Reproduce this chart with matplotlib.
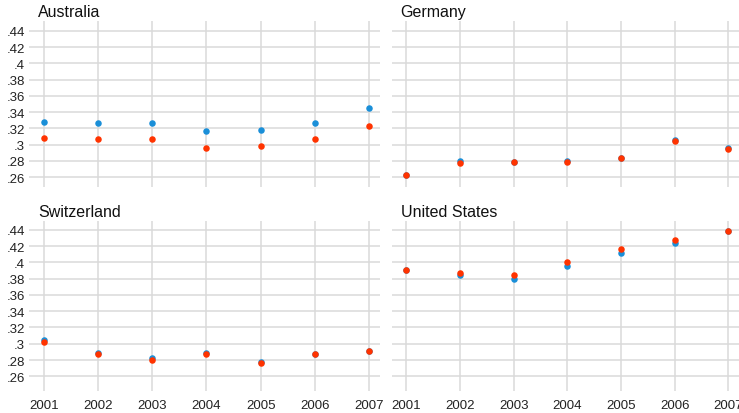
import matplotlib.pyplot as plt
from matplotlib.ticker import FuncFormatter
from matplotlib.transforms import offset_copy

plt.rcParams['font.family'] = ['Liberation Sans', 'DejaVu Sans']

years = [2001, 2002, 2003, 2004, 2005, 2006, 2007]
countries = ["Australia", "Germany", "Switzerland", "United States"]

# two series per country
blue_aus = [.328, .326, .327, .317, .318, .327, .345]
red_aus = [.308, .307, .307, .296, .298, .307, .323]
blue_deu = [.263, .280, .279, .280, .283, .306, .296]
red_deu = [.262, .277, .278, .279, .283, .304, .294]
blue_che = [.305, .289, .282, .289, .278, .288, .291]
red_che = [.302, .287, .280, .288, .276, .287, .291]
blue_usa = [.391, .385, .380, .396, .411, .424, .438]
red_usa = [.391, .387, .384, .400, .416, .427, .438]

blue_series = [blue_aus, blue_deu, blue_che, blue_usa]
red_series = [red_aus, red_deu, red_che, red_usa]

yticks = [.26, .28, .30, .32, .34, .36, .38, .40, .42, .44]

BLUE = "#1a8fd8"
RED = "#ff3300"
GRID = "#dadada"

W, H = 739, 414
fig = plt.figure(figsize=(W / 100, H / 100), dpi=100)

# panel boxes in pixels: left, right, top, bottom
boxes = [
    (29, 380, 22, 188),
    (392, 739, 22, 188),
    (29, 380, 222, 392),
    (392, 739, 222, 392),
]
ylims = [(0.2477, 0.4523), (0.2477, 0.4523), (0.2420, 0.4507), (0.2420, 0.4507)]


def fmt(v, pos):
    s = f"{v:.2f}".rstrip("0").rstrip(".")
    return s.lstrip("0")


for i, (name, b, r) in enumerate(zip(countries, blue_series, red_series)):
    l, rgt, t, btm = boxes[i]
    ax = fig.add_axes([l / W, 1 - btm / H, (rgt - l) / W, (btm - t) / H])
    ax.scatter(years, b, s=22, color=BLUE, zorder=3, linewidths=0)
    ax.scatter(years, r, s=22, color=RED, zorder=4, linewidths=0)
    ax.set_xlim(2000.73, 2007.2)
    ax.set_ylim(*ylims[i])
    ax.set_xticks(years)
    ax.set_yticks(yticks)
    ax.yaxis.set_major_formatter(FuncFormatter(fmt))
    ax.grid(True, color=GRID, linewidth=1.1)
    ax.set_axisbelow(True)
    for sp in ax.spines.values():
        sp.set_visible(False)
    ax.tick_params(axis="y", length=0, labelsize=9.5, colors="#222222", pad=3)
    ax.tick_params(axis="x", length=0, labelsize=9.5, colors="#222222", pad=6)
    if i % 2 == 1:
        ax.tick_params(labelleft=False)
    if i < 2:
        ax.tick_params(labelbottom=False)
    # panel title sits a few pixels above the plot area
    trans = offset_copy(ax.transAxes, fig=fig, x=0, y=3.5, units="points")
    ax.text(0.025, 1.0, name, transform=trans, fontsize=11.5,
            ha="left", va="baseline", color="#111111")

fig.savefig("out.png", dpi=100)
